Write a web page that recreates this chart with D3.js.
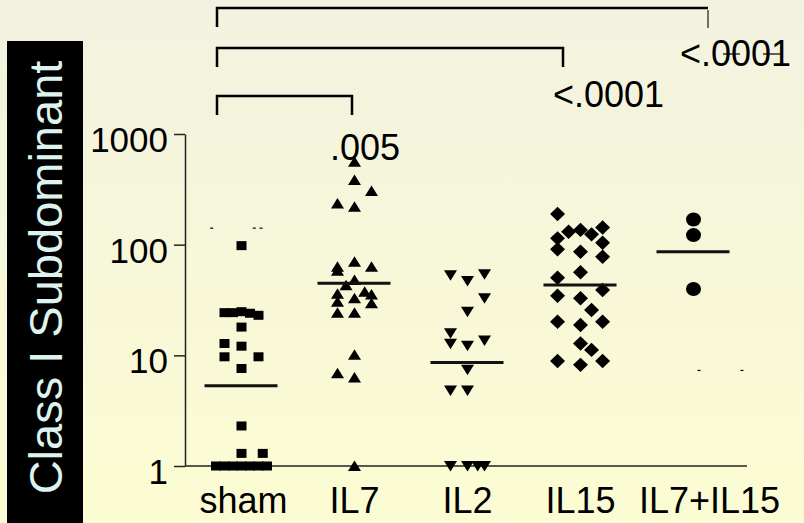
<!DOCTYPE html>
<html>
<head>
<meta charset="utf-8">
<script src="https://cdn.jsdelivr.net/npm/d3@7"></script>
<style>
  html, body { margin: 0; padding: 0; background: #f7f7dc; }
  svg { display: block; }
</style>
</head>
<body>
<svg id="chart" width="804" height="523"></svg>
<script>
// ---------------- DATA ----------------
const categories = ["sham", "IL7", "IL2", "IL15", "IL7+IL15"];
const yTickValues = [1, 10, 100, 1000];
const yTitle = "Class I Subdominant";

// individual animals (value) and their dodge slot within the column
const shamValues = [98, 24.3, 24.3, 24.8, 24, 23, 18, 12.8, 12.1, 9.7, 9.7, 7.6, 2.3, 1.3, 1.3, 1, 1, 1, 1, 1, 1, 1];
const shamSlots  = [0, -2, -1, 0, 1, 2, 0, -2, 0, -2, 2, 0, 0, 0, 2.5, -3, -2, -1, 0, 1, 2, 3];

const il7Values = [562, 384, 305, 236, 220, 70, 63, 63, 58, 48, 43, 37.6, 36, 35.5, 32.8, 30.5, 29.5, 24.3, 24.3, 10.1, 6.9, 6.3, 1];
const il7Slots  = [0, 0, 2, -2, 0, 0, -2, 2, -2, 0, -1, 1.2, -2, 2, 0, -2, 2, -2, 0, 0, -2, 0, 0];

const il2Values = [53, 47, 54, 32.8, 24.8, 15.8, 12.7, 12.2, 13.6, 7.4, 4.8, 4.8, 1, 1, 1, 1];
const il2Slots  = [-2, 0, 2, 2, 0, -2, -2, 0, 2, 0, -2, 0, -2, 0, 1.2, 2];

const il15Values = [189, 131, 136, 124, 143, 114, 104, 90.8, 86.4, 77.8, 56.3, 50.3, 38.9, 34.6, 32.8, 25.7, 20.1, 18.8, 20.1, 12.8, 11.2, 8.9, 8.2, 8.9];
const il15Slots  = [-2.7, -1.4, 0, 1.3, 2.6, -2.7, 2.6, -2.7, 0, 2.6, 0, -2.7, 2.6, -2.7, 0, 1.3, -2.7, 0, 2.6, 0, 1.3, -2.7, 0, 2.6];

const il7il15Values = [169, 122, 39.7];
const il7il15Slots  = [0, 0, 0];

const medians = [5.3, 44.8, 8.6, 43.2, 86.4];

// tiny stray dash remnants visible on the original slide
const strayCats   = ["sham", "sham", "sham", "IL7+IL15", "IL7+IL15"];
const strayValues = [141, 141, 141, 7.3, 7.3];
const straySlots  = [-3.5, 1.5, 2.3, 0.65, 5.7];

// comparisons against sham
const bracketTo = ["IL7", "IL15", "IL7+IL15"];
const pLabels = [".005", "<.0001", "<.0001"];

// ---------------- CHART ----------------
const FONT = "'Liberation Sans', Arial, Helvetica, sans-serif";
const svg = d3.select("#chart");

const defs = svg.append("defs");
const grad = defs.append("linearGradient").attr("id", "bg").attr("x1", 0).attr("y1", 0).attr("x2", 0).attr("y2", 1);
grad.append("stop").attr("offset", "0%").attr("stop-color", "#f2f2e0");
grad.append("stop").attr("offset", "100%").attr("stop-color", "#fcfcd3");
svg.append("rect").attr("width", 804).attr("height", 523).attr("fill", "url(#bg)");

const x = d3.scaleBand().domain(categories).range([185, 750]).padding(0);
const y = d3.scaleLog().domain([1, 1000]).range([466, 134]);
const cx = c => x(c) + x.bandwidth() / 2;
const SLOT = 8.5;

// Y title box
svg.append("rect").attr("x", 7).attr("y", 41).attr("width", 76).attr("height", 482).attr("fill", "#000");
svg.append("text")
  .attr("transform", "translate(62,277.5) rotate(-90)")
  .attr("text-anchor", "middle")
  .attr("font-family", FONT).attr("font-size", 47)
  .attr("fill", "#ddf3ee")
  .text(yTitle);

// Y axis
const yAxis = svg.append("g").attr("transform", "translate(185,0)")
  .call(d3.axisLeft(y).tickValues(yTickValues).tickFormat(d3.format("d")).tickSize(11).tickSizeOuter(0).tickPadding(6));
yAxis.select(".domain").attr("stroke", "#222").attr("stroke-width", 1.5);
yAxis.selectAll(".tick line").attr("stroke", "#222").attr("stroke-width", 1.5);
yAxis.selectAll(".tick text").attr("font-family", FONT).attr("font-size", 35).attr("fill", "#000").attr("dy", "0.5em");

// X axis
const xAxis = svg.append("g").attr("transform", "translate(0,466)")
  .call(d3.axisBottom(x).tickSize(0).tickSizeOuter(0).tickPadding(21));
xAxis.select(".domain").attr("stroke", "#222").attr("stroke-width", 1.5).attr("d", "M185,0H747");
xAxis.selectAll(".tick text").attr("font-family", FONT).attr("font-size", 36).attr("fill", "#000")
  .attr("dx", d => d === "IL7+IL15" ? 16 : (d === "sham" ? 2 : 0));

// marker shapes
const shapes = {
  square: "M-5,-4.5H5V4.5H-5Z",
  up: "M0,-5.5L6.5,5L-6.5,5Z",
  down: "M-6.5,-5L6.5,-5L0,5.5Z",
  diamond: "M0,-7.2L7.5,0L0,7.2L-7.5,0Z",
};

const groups = [
  { cat: "sham", values: shamValues, slots: shamSlots, shape: "square" },
  { cat: "IL7", values: il7Values, slots: il7Slots, shape: "up" },
  { cat: "IL2", values: il2Values, slots: il2Slots, shape: "down" },
  { cat: "IL15", values: il15Values, slots: il15Slots, shape: "diamond" },
  { cat: "IL7+IL15", values: il7il15Values, slots: il7il15Slots, shape: "circle" },
];

// stray dashes
svg.append("g").selectAll("line").data(strayValues).join("line")
  .attr("x1", (v, i) => cx(strayCats[i]) + straySlots[i] * SLOT - 1.5)
  .attr("x2", (v, i) => cx(strayCats[i]) + straySlots[i] * SLOT + 1.5)
  .attr("y1", v => y(v)).attr("y2", v => y(v))
  .attr("stroke", "#000").attr("stroke-width", 1.2);

const pts = svg.append("g");
groups.forEach(g => {
  const data = g.values.map((v, i) => ({ v, s: g.slots[i] }));
  if (g.shape === "circle") {
    pts.selectAll(null).data(data).join("ellipse")
      .attr("cx", d => cx(g.cat) + d.s * SLOT)
      .attr("cy", d => y(d.v))
      .attr("rx", 7.5).attr("ry", 7)
      .attr("fill", "#000");
  } else {
    pts.selectAll(null).data(data).join("path")
      .attr("d", shapes[g.shape])
      .attr("transform", d => `translate(${cx(g.cat) + d.s * SLOT},${y(d.v)})`)
      .attr("fill", "#000");
  }
});

// median lines
svg.append("g").selectAll("line").data(categories).join("line")
  .attr("x1", c => cx(c) - 37).attr("x2", c => cx(c) + 36)
  .attr("y1", (c, i) => y(medians[i])).attr("y2", (c, i) => y(medians[i]))
  .attr("stroke", "#111").attr("stroke-width", 3);

// significance brackets
const bracketY = [96, 48, 8];
const bracketDrop = 19;
const bracketRightOffset = [-2.5, -17.5, 14.5];
const pLabelPos = [[330, 160], [553, 107], [680, 66]];
const br = svg.append("g");
bracketTo.forEach((to, i) => {
  const x0 = cx("sham") - 24.5;
  const x1 = cx(to) + bracketRightOffset[i];
  const yy = bracketY[i];
  br.append("path")
    .attr("d", `M${x0},${yy + bracketDrop}V${yy}H${x1}` + (i === 2 ? "" : `V${yy + bracketDrop}`))
    .attr("fill", "none").attr("stroke", "#000").attr("stroke-width", 2.5);
  if (i === 2) {
    br.append("line").attr("x1", x1).attr("x2", x1).attr("y1", yy + 2).attr("y2", yy + 20)
      .attr("stroke", "#444").attr("stroke-width", 1.5);
  }
  br.append("text")
    .attr("x", pLabelPos[i][0]).attr("y", pLabelPos[i][1])
    .attr("font-family", FONT).attr("font-size", 36).attr("fill", "#000")
    .text(pLabels[i]);
});
// small stray strike marks over the top p-value (as in the original slide)
br.append("line").attr("x1", 723).attr("x2", 740).attr("y1", 54).attr("y2", 54).attr("stroke", "#000").attr("stroke-width", 1.2);
br.append("line").attr("x1", 763).attr("x2", 780).attr("y1", 54).attr("y2", 54).attr("stroke", "#000").attr("stroke-width", 1.2);
</script>
</body>
</html>
